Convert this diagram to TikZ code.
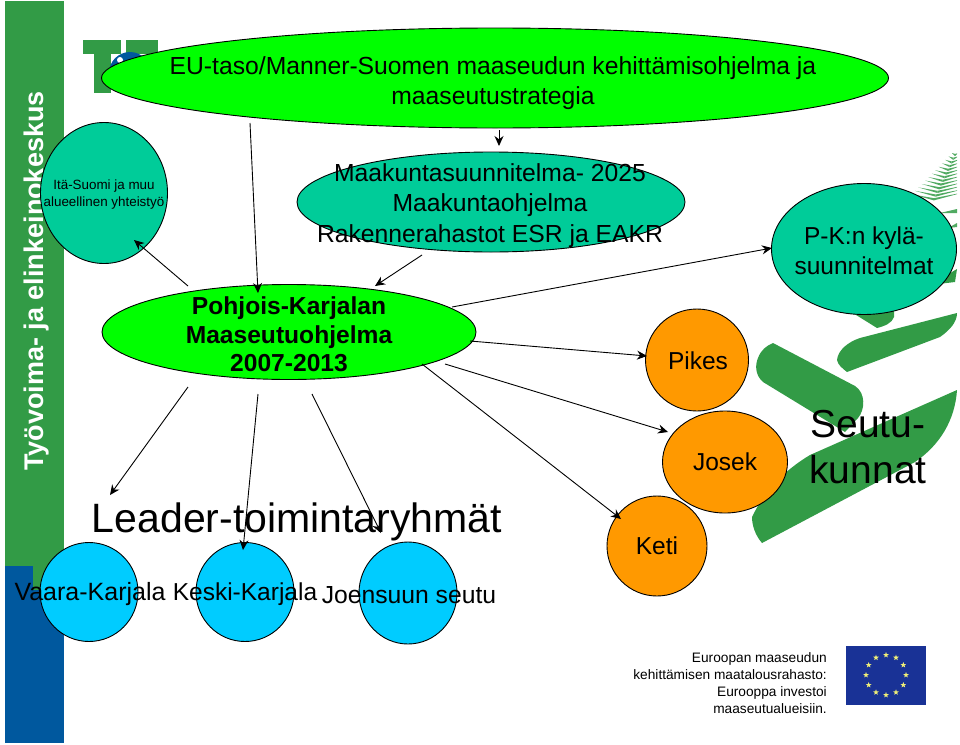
\documentclass[tikz,border=0pt]{standalone}
\usepackage{fontspec}
\setmainfont{Liberation Sans}
\usetikzlibrary{arrows.meta,shapes.geometric,shapes.misc,calc}
\definecolor{ggreen}{RGB}{50,155,70}
\definecolor{gblue}{RGB}{0,88,158}
\definecolor{teal}{RGB}{0,204,153}
\definecolor{lime}{RGB}{0,255,0}
\definecolor{sky}{RGB}{0,204,255}
\definecolor{orng}{RGB}{255,153,0}
\definecolor{euflag}{RGB}{25,50,150}
\definecolor{eustar}{RGB}{240,240,120}
\newcommand{\fs}[2]{\fontsize{#1}{#2}\selectfont}
\tikzset{x=1pt,y=-1pt,
 oval/.style={ellipse,draw=black,line width=0.9pt,inner sep=0,minimum width=#1},
 arr/.style={draw=black,line width=0.9pt,-{Stealth[length=10pt,width=9pt]}},
 lab/.style={align=center,inner sep=0,text=black}}
\begin{document}
\begin{tikzpicture}
\useasboundingbox (0,0) rectangle (960,744);
\fill[white] (0,0) rectangle (960,744);
% side band
\fill[ggreen] (5,1) rectangle (64,568);
\fill[ggreen] (33,566) rectangle (64,600);
\fill[gblue] (5,566) rectangle (33,743);
\fill[gblue] (33,590) rectangle (64,743);
\node[lab,rotate=90,text=white,anchor=center,font=\fs{27}{30}\bfseries] (band) at (37,281) {Työvoima- ja elinkeinokeskus};
% logo
\fill[ggreen] (83,40) rectangle (121,54);
\fill[ggreen] (126,40) rectangle (158,54);
\fill[ggreen] (94,54) rectangle (111,93);
\fill[gblue] (130,73) circle[radius=21];
\fill[white] (120,60) circle[radius=3];
% fern
\fill[ggreen] (752,517) .. controls (765,490) and (785,470) .. (810,455) -- (957,390) .. controls (955,420) and (940,445) .. (915,462) -- (762,543) .. controls (755,535) and (752,525) .. (752,517) -- cycle;
\fill[ggreen] (773,343) -- (855,386) .. controls (866,393) and (865,410) .. (858,418) -- (845,432) -- (763,382) .. controls (755,375) and (755,365) .. (758,358) .. controls (761,350) and (766,346) .. (773,343) -- cycle;
\fill[ggreen] (837,360) .. controls (838,350) and (848,342) .. (860,338) -- (957,313) .. controls (957,322) and (950,330) .. (940,337) -- (847,372) .. controls (842,368) and (838,365) .. (837,360) -- cycle;
\fill[ggreen] (840,305) -- (894,305) -- (894,317) .. controls (892,323) and (885,326) .. (877,328) -- cycle;
\fill[ggreen] (930,285) -- (957,269) -- (955,282) -- cycle;
\begin{scope}
\clip (900,150) rectangle (957,300);
\foreach \t in {0,0.08,...,1.0} {
  \fill[ggreen!85!white] ($(955,154)+(-22*\t,46*\t)$) -- ($(955,154)+(-22*\t-3-20*\t,46*\t-1-3*\t)$) -- ($(955,154)+(-22*\t,46*\t+2.2)$) -- cycle;
  \fill[ggreen!85!white] ($(955,154)+(-22*\t,46*\t)$) -- ($(955,154)+(-22*\t+3+28*\t,46*\t-1-5*\t)$) -- ($(955,154)+(-22*\t,46*\t+2.2)$) -- cycle;
}
\fill[ggreen!85!white] (940,213) -- (957,209) -- (957,213) -- cycle;
\fill[ggreen!85!white] (948,228) -- (957,223) -- (957,227) -- cycle;
\end{scope}
% main ellipses
\node[oval=787pt,minimum height=100pt,fill=lime] (eu) at (495,78) {};
\node[lab,font=\fs{24.7}{30}] (eut) at (493,83.5) {EU-taso/Manner-Suomen maaseudun kehittämisohjelma ja\\maaseutustrategia};
\node[oval=127pt,minimum height=141pt,fill=teal] (ita) at (104,193) {};
\node[lab,font=\fs{13.4}{17}] (itat) at (104,195) {Itä-Suomi ja muu\\alueellinen yhteistyö};
\node[oval=388pt,minimum height=100pt,fill=teal] (maak) at (491,202) {};
\node[lab,font=\fs{24.7}{30.5}] (maakt) at (490,205.5) {Maakuntasuunnitelma- 2025\\Maakuntaohjelma\\Rakennerahastot ESR ja EAKR};
\node[oval=374pt,minimum height=95pt,fill=lime] (pk) at (289,332) {};
\node[lab,font=\fs{24.6}{28.5}\bfseries] (pkt) at (289,334.5) {Pohjois-Karjalan\\Maaseutuohjelma\\2007-2013};
\node[oval=185pt,minimum height=131pt,fill=teal] (kyla) at (864,249) {};
\node[lab,font=\fs{24.5}{30}] (kylat) at (864,251) {P-K:n kylä-\\suunnitelmat};
\node[oval=103pt,minimum height=102pt,fill=orng] (pikes) at (697,360) {};
\node[lab,font=\fs{24.5}{30}] (pikest) at (698,361) {Pikes};
\node[oval=125pt,minimum height=102pt,fill=orng] (josek) at (725,462) {};
\node[lab,font=\fs{24.5}{30}] (josekt) at (725,462) {Josek};
\node[oval=100pt,minimum height=100pt,fill=orng] (keti) at (657,546) {};
\node[lab,font=\fs{24.5}{30}] (ketit) at (657,546) {Keti};
\node[lab,font=\fs{39}{46}] (seutu) at (868,447) {Seutu-\\kunnat};
\node[lab,font=\fs{41}{46}] (leader) at (297,522) {Leader-toimintaryhmät};
\node[oval=98pt,minimum height=99pt,fill=sky] (vaara) at (89,592) {};
\node[oval=98pt,minimum height=99pt,fill=sky] (keski) at (245,592) {};
\node[oval=98pt,minimum height=102pt,fill=sky] (joen) at (408,593) {};
\node[lab,font=\fs{25}{30}] (vaarat) at (90,594) {Vaara-Karjala};
\node[lab,font=\fs{24.5}{30}] (keskit) at (245,594) {Keski-Karjala};
\node[lab,font=\fs{24.7}{30}] (joent) at (409,595) {Joensuun seutu};
% EU flag and text
\fill[euflag] (846,646) rectangle (926,705);
\node[lab,align=right,anchor=north east,font=\fs{13.7}{17}] (rahasto) at (827,652) {Euroopan maaseudun\\kehittämisen maatalousrahasto:\\Eurooppa investoi\\maaseutualueisiin.};
\foreach \a in {0,30,...,330}
  \node[star,star points=5,star point ratio=2.4,fill=eustar,inner sep=0,minimum size=6pt] at ($(886,675)+(\a:20)$) {};
% connectors
\coordinate (a1) at (250,123); \coordinate (b1) at (258,293);
\coordinate (a2) at (499,130); \coordinate (b2) at (499,146);
\coordinate (a3) at (188,286); \coordinate (b3) at (134,240);
\coordinate (a4) at (422,255); \coordinate (b4) at (375,286);
\coordinate (a5) at (188,387); \coordinate (b5) at (110,495);
\coordinate (a6) at (258,394); \coordinate (b6) at (243,550);
\coordinate (a7) at (312,394); \coordinate (b7) at (381,533);
\coordinate (a8) at (452,307); \coordinate (b8) at (772,248);
\coordinate (a9) at (470,341); \coordinate (b9) at (647,356);
\coordinate (a10) at (445,364); \coordinate (b10) at (668,432);
\coordinate (a11) at (422,364); \coordinate (b11) at (621,519);
\foreach \i in {1,...,11} \draw[arr] (a\i) -- (b\i);
\end{tikzpicture}
\end{document}
